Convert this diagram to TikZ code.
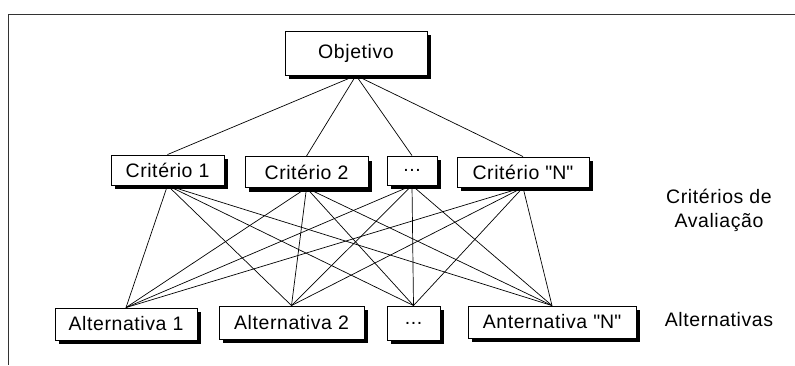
\documentclass[tikz,border=0pt]{standalone}
\usepackage{fontspec}
\setmainfont{Liberation Sans}[LetterSpace=3]
\usetikzlibrary{shadows, shapes}

\tikzset{
	caixa/.style={draw, fill=white, line width=0.9pt, inner sep=0pt,
		drop shadow={shadow xshift=4pt, shadow yshift=-4pt, fill=black, opacity=1}},
	rotulo/.style={align=center, inner sep=0pt}
}

\begin{document}
\begin{tikzpicture}[x=1pt, y=-1pt, font=\fontsize{19.5}{24}\selectfont]
	\useasboundingbox (0,0) rectangle (795,365);
	\draw[line width=0.9pt, black!80] (795,14) -- (8,14) -- (8,365); 
	% objetivo
	\node[caixa, minimum width=142pt, minimum height=44pt] (obj) at (356,53) {Objetivo};
	% criterios
	\node[caixa, minimum width=113pt, minimum height=30pt] (c1) at (167.5,170) {Critério 1};
	\node[caixa, minimum width=123pt, minimum height=31pt] (c2) at (306.5,172) {Critério 2};
	\node[caixa, minimum width=50pt, minimum height=29pt] (c3) at (412,170.5) {...};
	\node[caixa, minimum width=132pt, minimum height=30pt] (cn) at (523,172) {Critério \textquotedbl N\textquotedbl};
	% alternativas
	\node[caixa, minimum width=142pt, minimum height=32pt] (a1) at (126,324) {Alternativa 1};
	\node[caixa, minimum width=145pt, minimum height=33pt] (a2) at (291.5,322.5) {Alternativa 2};
	\node[caixa, minimum width=53pt, minimum height=34pt] (a3) at (413.5,323) {...};
	\node[caixa, minimum width=168pt, minimum height=32pt] (an) at (552,322) {Anternativa \textquotedbl N\textquotedbl};
	% legendas
	\node[rotulo] (lcrit) at (719,210) {Critérios de\\Avaliação};
	\node[rotulo] (lalt) at (719,320) {Alternativas};
	\begin{scope}[line width=0.7pt]
	\draw (obj.south) -- (c1.north) (obj.south) -- (c2.north) (obj.south) -- (c3.north) (obj.south) -- (cn.north); 
	\draw (c1.south) -- (a1.north) (c1.south) -- (a2.north) (c1.south) -- (a3.north) (c1.south) -- (an.north); 
	\draw (c2.south) -- (a1.north) (c2.south) -- (a2.north) (c2.south) -- (a3.north) (c2.south) -- (an.north); 
	\draw (c3.south) -- (a1.north) (c3.south) -- (a2.north) (c3.south) -- (a3.north) (c3.south) -- (an.north); 
	\draw (cn.south) -- (a1.north) (cn.south) -- (a2.north) (cn.south) -- (a3.north) (cn.south) -- (an.north); 
	\end{scope}
\end{tikzpicture}
\end{document}
